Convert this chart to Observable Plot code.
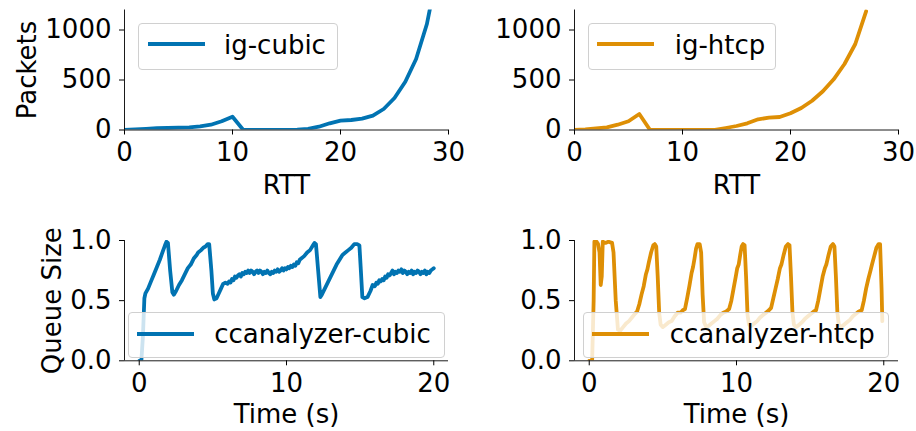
<!DOCTYPE html>
<html>
<head>
<meta charset="utf-8">
<script src="https://cdn.jsdelivr.net/npm/d3@7"></script>
<script src="https://cdn.jsdelivr.net/npm/@observablehq/plot@0.6"></script>
<style>
  body { margin: 0; background: #fff; }
  #fig { position: relative; width: 916px; height: 431px; background: #fff; font-family: "DejaVu Sans", sans-serif; overflow: hidden; }
  .panel { position: absolute; }
  .legend { position: absolute; box-sizing: border-box; background: rgba(255,255,255,0.8); border: 1px solid #d0d0d0; border-radius: 4px; }
  .legend .swatch { position: absolute; height: 4px; }
  .legend .lab { position: absolute; font-size: 26px; line-height: 26px; color: #000; white-space: nowrap; }
</style>
</head>
<body>
<div id="fig"></div>
<script>
// ---------- data ----------
const rttX = [0,1,2,3,4,5,6,7,8,9,10,11,12,13,14,15,16,17,18,19,20,21,22,23,24,25,26,27,28,29];
const igCubic = [0,6,12,18,20,23,27,37,53,87,133,0,0,0,0,1,3,12,33,67,93,100,113,143,210,320,483,710,1060,1600];
const rttXH = [0,1,2,3,4,5,6,7,8,9,10,11,12,13,14,15,16,17,18,19,20,21,22,23,24,25,26,27];
const igHtcp = [0,5,15,27,53,87,160,0,0,0,0,0,0,2,20,40,67,107,123,130,167,220,293,387,507,660,860,1187];

const cubicT = [0,0.15,0.25,0.35,0.42,0.6,0.8,1.0,1.2,1.4,1.6,1.75,1.85,1.95,2.1,2.25,2.35,2.5,2.7,2.9,3.1,3.3,3.5,3.7,3.9,4.0,4.2,4.35,4.5,4.65,4.75,4.9,5.0,5.1,5.25,5.4,5.55,5.7,5.85,6.0,6.1,6.2,6.3,6.4,6.5,6.6,6.7,6.8,6.9,7.0,7.1,7.2,7.3,7.4,7.5,7.6,7.7,7.8,7.9,8.0,8.1,8.2,8.3,8.4,8.5,8.6,8.7,8.8,8.9,9.0,9.1,9.2,9.3,9.4,9.5,9.6,9.7,9.8,9.9,10.0,10.1,10.2,10.3,10.4,10.5,10.6,10.7,10.8,10.9,11.0,11.2,11.4,11.6,11.8,11.9,12.0,12.15,12.3,12.4,12.6,12.8,13.0,13.2,13.4,13.6,13.8,14.0,14.2,14.4,14.6,14.8,14.95,15.05,15.15,15.3,15.5,15.7,15.85,16.0,16.1,16.2,16.3,16.4,16.5,16.6,16.7,16.8,16.9,17.0,17.1,17.2,17.3,17.4,17.5,17.6,17.7,17.8,17.9,18.0,18.1,18.2,18.3,18.4,18.5,18.6,18.7,18.8,18.9,19.0,19.1,19.2,19.3,19.4,19.5,19.6,19.7,19.8,19.9,20.0];
const cubicQ = [0,0.01,0.2,0.52,0.56,0.6,0.66,0.72,0.78,0.84,0.91,0.96,0.99,0.98,0.75,0.57,0.55,0.58,0.63,0.67,0.72,0.77,0.8,0.85,0.88,0.9,0.92,0.94,0.95,0.97,0.97,0.75,0.56,0.51,0.52,0.56,0.6,0.64,0.65,0.64,0.66,0.65,0.68,0.67,0.7,0.69,0.71,0.72,0.7,0.73,0.72,0.74,0.73,0.75,0.73,0.75,0.74,0.72,0.74,0.75,0.73,0.75,0.74,0.72,0.74,0.73,0.75,0.73,0.72,0.74,0.73,0.75,0.74,0.76,0.74,0.75,0.77,0.75,0.77,0.76,0.78,0.77,0.79,0.78,0.8,0.79,0.82,0.81,0.84,0.85,0.87,0.9,0.92,0.96,0.98,0.97,0.75,0.53,0.55,0.6,0.65,0.7,0.75,0.8,0.84,0.88,0.9,0.92,0.94,0.97,0.97,0.96,0.75,0.53,0.52,0.53,0.58,0.63,0.62,0.65,0.64,0.67,0.66,0.68,0.67,0.7,0.69,0.72,0.71,0.73,0.75,0.72,0.74,0.73,0.75,0.74,0.76,0.73,0.75,0.74,0.72,0.74,0.73,0.75,0.72,0.74,0.73,0.75,0.74,0.72,0.74,0.73,0.75,0.72,0.74,0.73,0.75,0.76,0.77];

const htcpT = [0,0.2,0.3,0.35,0.5,0.6,0.7,0.78,0.85,0.92,1.1,1.3,1.55,1.65,1.8,1.95,2.1,2.3,2.5,2.7,2.9,3.1,3.25,3.4,3.55,3.7,3.85,3.95,4.05,4.2,4.35,4.45,4.55,4.65,4.75,4.85,5.0,5.2,5.4,5.6,5.8,6.0,6.2,6.35,6.5,6.65,6.8,6.95,7.05,7.15,7.25,7.35,7.5,7.6,7.7,7.8,7.95,8.1,8.3,8.5,8.7,8.9,9.1,9.3,9.5,9.65,9.8,9.95,10.05,10.15,10.25,10.35,10.45,10.55,10.65,10.75,10.85,11.0,11.2,11.4,11.6,11.8,12.0,12.2,12.35,12.5,12.65,12.8,12.95,13.05,13.2,13.35,13.5,13.6,13.7,13.8,13.9,14.05,14.25,14.45,14.65,14.85,15.05,15.25,15.4,15.55,15.7,15.85,16.0,16.1,16.25,16.4,16.55,16.65,16.75,16.85,16.95,17.1,17.3,17.5,17.7,17.9,18.1,18.3,18.5,18.65,18.8,18.95,19.1,19.2,19.35,19.5,19.65,19.75,19.85,19.9];
const htcpQ = [0,0.01,0.5,0.99,0.99,0.97,0.9,0.63,0.7,0.99,0.98,0.99,0.98,0.9,0.5,0.26,0.25,0.28,0.31,0.33,0.36,0.39,0.41,0.47,0.55,0.62,0.72,0.76,0.82,0.9,0.96,0.97,0.95,0.7,0.4,0.3,0.28,0.3,0.32,0.33,0.37,0.4,0.4,0.42,0.43,0.52,0.62,0.73,0.78,0.85,0.93,0.97,0.97,0.9,0.55,0.32,0.28,0.29,0.31,0.33,0.35,0.38,0.4,0.41,0.43,0.5,0.6,0.7,0.77,0.8,0.88,0.95,0.97,0.96,0.7,0.38,0.3,0.29,0.31,0.33,0.36,0.38,0.4,0.42,0.44,0.52,0.6,0.68,0.77,0.8,0.88,0.95,0.97,0.96,0.7,0.4,0.3,0.28,0.3,0.32,0.35,0.37,0.39,0.41,0.42,0.5,0.6,0.7,0.77,0.8,0.88,0.95,0.97,0.95,0.7,0.4,0.3,0.28,0.3,0.32,0.34,0.37,0.39,0.41,0.42,0.5,0.6,0.68,0.75,0.8,0.87,0.94,0.97,0.97,0.6,0.33];

const topTicksX = [0,10,20,30];
const topTicksY = [0,500,1000];
const botTicksX = [0,10,20];
const botTicksY = [0,0.5,1];

const BLUE = "#0173b2";
const ORANGE = "#de8f05";
const FONT = "DejaVu Sans";

function panel({xs, ys, color, xDomain, yDomain, xTicks, yTicks, yFmt, xLabel, yLabel, yLabelDx, xLabelDy, w, h, mL, mR, mT, mB}) {
  const data = xs.map((x, i) => ({x, y: ys[i]}));
  const marks = [
    Plot.lineY(data, {x: "x", y: "y", stroke: color, strokeWidth: 3.8, clip: true, curve: "linear"}),
    Plot.ruleX([xDomain[0]], {stroke: "#000", strokeWidth: 0.9}),
    Plot.ruleY([yDomain[0]], {stroke: "#000", strokeWidth: 0.9}),
    Plot.axisX({ticks: xTicks, tickSize: 5, tickPadding: 8, fontSize: 26, tickFormat: d3.format("d"), label: null, stroke: "#000", color: "#000"}),
    Plot.axisY({ticks: yTicks, tickSize: 5, tickPadding: 8, fontSize: 26, tickFormat: yFmt, label: null, stroke: "#000", color: "#000"}),
    Plot.text([xLabel], {frameAnchor: "bottom", lineAnchor: "top", dy: xLabelDy, fontSize: 26, fill: "#000"})
  ];
  if (yLabel) marks.push(Plot.text([yLabel], {frameAnchor: "left", textAnchor: "middle", lineAnchor: "middle", rotate: -90, dx: yLabelDx, fontSize: 26, fill: "#000"}));
  return Plot.plot({
    width: w, height: h,
    marginLeft: mL, marginRight: mR, marginTop: mT, marginBottom: mB,
    style: {fontFamily: FONT, background: "transparent", overflow: "visible"},
    x: {domain: xDomain},
    y: {domain: yDomain},
    marks
  });
}

const fig = document.getElementById("fig");
function place(el, left, top) {
  el.classList.add("panel");
  el.style.left = left + "px";
  el.style.top = top + "px";
  fig.appendChild(el);
}

place(panel({xs: rttX, ys: igCubic, color: BLUE, xDomain: [0,30], yDomain: [0,1200], xTicks: topTicksX, yTicks: topTicksY, yFmt: d3.format("d"), xLabel: "RTT", yLabel: "Packets", yLabelDx: -97, xLabelDy: 45.5, w: 458, h: 215, mL: 124, mR: 10, mT: 9.5, mB: 85.5}), 0, 0);
place(panel({xs: rttXH, ys: igHtcp, color: ORANGE, xDomain: [0,30], yDomain: [0,1200], xTicks: topTicksX, yTicks: topTicksY, yFmt: d3.format("d"), xLabel: "RTT", yLabel: null, xLabelDy: 45.5, w: 458, h: 215, mL: 116, mR: 18, mT: 9.5, mB: 85.5}), 458, 0);
place(panel({xs: cubicT, ys: cubicQ, color: BLUE, xDomain: [-1,21], yDomain: [0,1], xTicks: botTicksX, yTicks: botTicksY, yFmt: d3.format(".1f"), xLabel: "Time (s)", yLabel: "Queue Size", yLabelDx: -72, xLabelDy: 44, w: 458, h: 216, mL: 124, mR: 10, mT: 25, mB: 70.7}), 0, 215);
place(panel({xs: htcpT, ys: htcpQ, color: ORANGE, xDomain: [-1,21], yDomain: [0,1], xTicks: botTicksX, yTicks: botTicksY, yFmt: d3.format(".1f"), xLabel: "Time (s)", yLabel: null, xLabelDy: 44, w: 458, h: 216, mL: 116, mR: 18, mT: 25, mB: 70.7}), 458, 215);

// legends
const legends = [
  {label: "ig-cubic", color: BLUE, left: 138, top: 22.7, width: 200, height: 47.3, sw: 9, tx: 85},
  {label: "ig-htcp", color: ORANGE, left: 587.7, top: 22.7, width: 188.3, height: 47.3, sw: 8.3, tx: 86},
  {label: "ccanalyzer-cubic", color: BLUE, left: 127.7, top: 312.3, width: 317.3, height: 45.4, sw: 8.3, tx: 85.6},
  {label: "ccanalyzer-htcp", color: ORANGE, left: 582.7, top: 312.3, width: 306.6, height: 45.4, sw: 8.3, tx: 86}
];
for (const L of legends) {
  const d = document.createElement("div");
  d.className = "legend";
  Object.assign(d.style, {left: L.left + "px", top: L.top + "px", width: L.width + "px", height: L.height + "px"});
  const s = document.createElement("div");
  s.className = "swatch";
  Object.assign(s.style, {left: L.sw + "px", top: "18.7px", width: "57px", background: L.color});
  const t = document.createElement("div");
  t.className = "lab";
  t.textContent = L.label;
  Object.assign(t.style, {left: L.tx + "px", top: "8px"});
  d.appendChild(s); d.appendChild(t);
  fig.appendChild(d);
}
</script>
</body>
</html>
